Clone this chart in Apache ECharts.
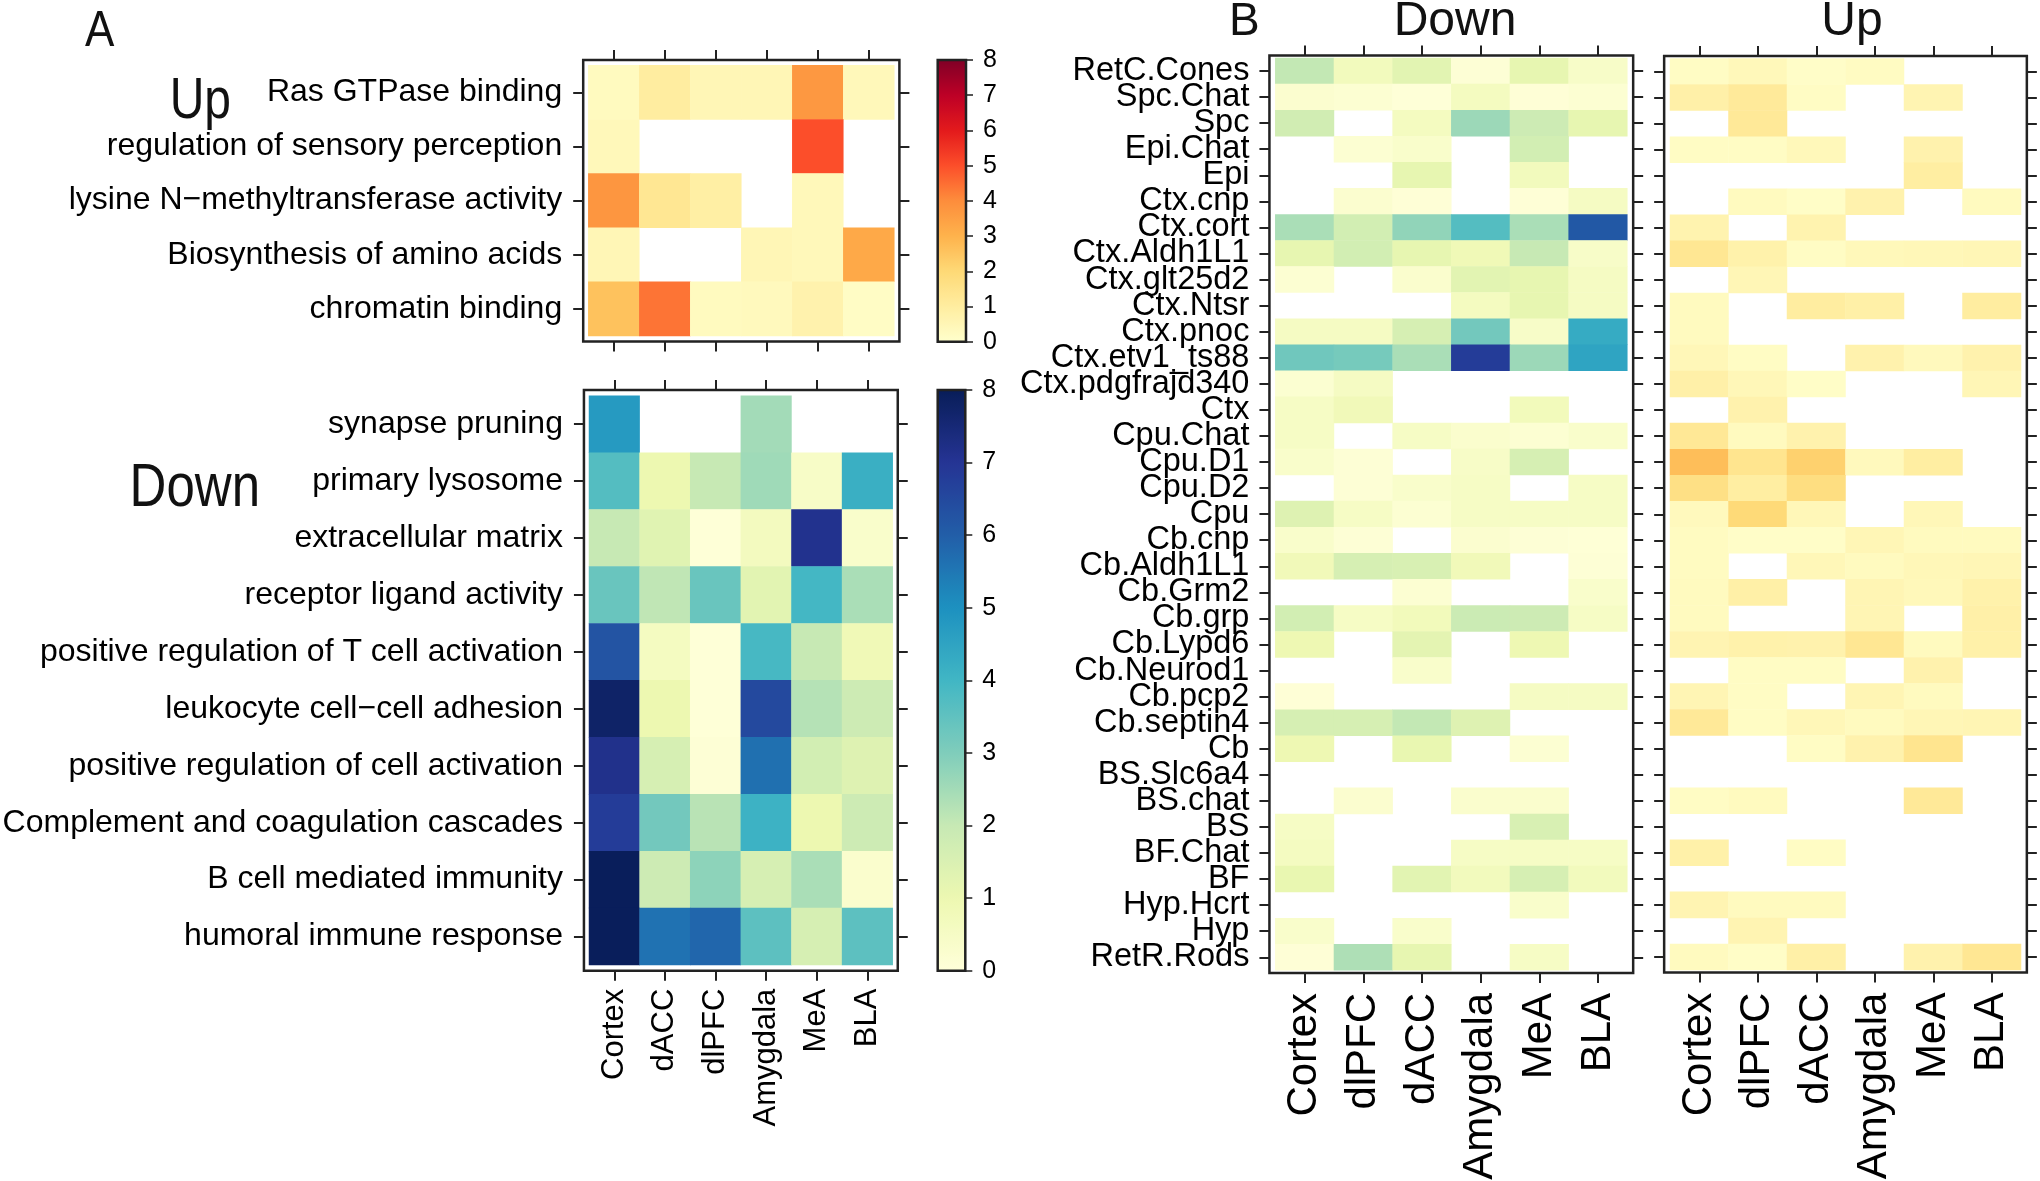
<!DOCTYPE html>
<html>
<head>
<meta charset="utf-8">
<script src="https://cdn.jsdelivr.net/npm/echarts@6/dist/echarts.min.js"></script>
<style>html,body{margin:0;padding:0;background:#fff}#chart{width:2040px;height:1181px}</style>
</head>
<body>
<div id="chart"></div>
<script>
// ---------------- DATA ----------------
const aRegions = ['Cortex', 'dACC', 'dlPFC', 'Amygdala', 'MeA', 'BLA'];
const bRegions = ['Cortex', 'dlPFC', 'dACC', 'Amygdala', 'MeA', 'BLA'];
const aUpTerms = ['Ras GTPase binding', 'regulation of sensory perception', 'lysine N\u2212methyltransferase activity', 'Biosynthesis of amino acids', 'chromatin binding'];
const aDownTerms = ['synapse pruning', 'primary lysosome', 'extracellular matrix', 'receptor ligand activity', 'positive regulation of T cell activation', 'leukocyte cell\u2212cell adhesion', 'positive regulation of cell activation', 'Complement and coagulation cascades', 'B cell mediated immunity', 'humoral immune response'];
const bCellTypes = ['RetC.Cones', 'Spc.Chat', 'Spc', 'Epi.Chat', 'Epi', 'Ctx.cnp', 'Ctx.cort', 'Ctx.Aldh1L1', 'Ctx.glt25d2', 'Ctx.Ntsr', 'Ctx.pnoc', 'Ctx.etv1_ts88', 'Ctx.pdgfrajd340', 'Ctx', 'Cpu.Chat', 'Cpu.D1', 'Cpu.D2', 'Cpu', 'Cb.cnp', 'Cb.Aldh1L1', 'Cb.Grm2', 'Cb.grp', 'Cb.Lypd6', 'Cb.Neurod1', 'Cb.pcp2', 'Cb.septin4', 'Cb', 'BS.Slc6a4', 'BS.chat', 'BS', 'BF.Chat', 'BF', 'Hyp.Hcrt', 'Hyp', 'RetR.Rods'];
const colorbarTicks = [0, 8, 1]; // min, max, step

// rows = terms / cell types, columns = regions (null = no value)
const aUpValues = [
  [0.3, 1.0, 0.5, 0.5, 3.7, 0.4],
  [0.4, null, null, null, 5.0, null],
  [3.75, 1.3, 0.9, null, 0.4, null],
  [0.5, null, null, 0.5, 0.4, 3.25],
  [2.6, 4.4, 0.3, 0.35, 0.7, 0.15]
];
const aDownValues = [
  [4.75, null, null, 2.5, null, null],
  [3.7, 1.0, 2.0, 2.55, 0.45, 4.2],
  [2.0, 1.35, 0.05, 0.65, 7.1, 0.35],
  [3.35, 2.1, 3.35, 1.3, 3.95, 2.4],
  [6.25, 0.6, 0.05, 3.9, 2.0, 0.85],
  [7.75, 1.0, 0.05, 6.5, 2.25, 1.85],
  [7.15, 1.6, 0.1, 5.65, 1.7, 1.4],
  [6.8, 3.2, 2.2, 4.1, 1.0, 1.85],
  [7.95, 1.85, 2.8, 1.6, 2.4, 0.3],
  [7.95, 5.6, 5.85, 3.55, 1.6, 3.55]
];
const bDownValues = [
  [2.05, 0.7, 1.3, 0.1, 1.15, 0.42],
  [0.25, 0.18, 0.05, 0.62, 0.08, 0.18],
  [1.75, null, 0.62, 2.6, 1.85, 1.15],
  [null, 0.18, 0.35, null, 1.7, null],
  [null, null, 1.15, null, 0.7, null],
  [null, 0.25, 0.08, null, 0.08, 0.55],
  [2.4, 1.7, 2.75, 3.7, 2.4, 6.15],
  [1.15, 1.7, 1.15, 0.85, 2.0, 0.42],
  [0.18, null, 0.3, 1.3, 1.15, 0.55],
  [null, null, null, 0.62, 1.15, 0.55],
  [0.55, 0.55, 1.6, 3.2, 0.42, 4.3],
  [3.25, 3.15, 2.4, 6.8, 2.6, 4.5],
  [0.2, 0.55, null, null, null, null],
  [0.5, 0.8, null, null, 0.75, null],
  [0.5, null, 0.5, 0.3, 0.18, 0.35],
  [0.35, 0.1, null, 0.45, 1.6, null],
  [null, 0.1, 0.35, 0.5, null, 0.5],
  [1.4, 0.5, 0.18, 0.5, 0.5, 0.5],
  [0.35, 0.1, null, 0.25, 0.1, 0.07],
  [0.8, 1.6, 1.55, 0.8, null, 0.1],
  [null, null, 0.18, null, null, 0.35],
  [1.7, 0.5, 0.75, 1.9, 1.85, 0.5],
  [0.95, null, 1.25, null, 0.95, null],
  [null, null, 0.35, null, null, null],
  [0.08, null, null, null, 0.55, 0.55],
  [1.6, 1.6, 2.05, 1.4, null, null],
  [0.95, null, 1.1, null, 0.18, null],
  [null, null, null, null, null, null],
  [null, 0.25, null, 0.3, 0.3, null],
  [0.5, null, null, null, 1.55, null],
  [0.6, null, null, 0.5, 0.5, 0.5],
  [1.1, null, 1.3, 0.7, 1.6, 0.7],
  [null, null, null, null, 0.35, null],
  [0.35, null, 0.35, null, null, null],
  [0.08, 2.35, 1.15, null, 0.5, null]
];
const bUpValues = [
  [0.18, 0.4, 0.1, 0.23, null, null],
  [0.82, 1.15, 0.18, null, 0.6, null],
  [null, 1.2, null, null, null, null],
  [0.18, 0.18, 0.4, null, 0.7, null],
  [null, null, null, null, 0.95, null],
  [null, 0.3, 0.12, 0.7, null, 0.3],
  [0.65, null, 0.65, null, null, null],
  [1.3, 0.75, 0.18, 0.4, 0.45, 0.5],
  [null, 0.5, null, null, null, null],
  [0.3, null, 1.0, 0.85, null, 1.0],
  [0.3, null, null, null, null, null],
  [0.45, 0.18, null, 0.7, 0.35, 0.7],
  [0.82, 0.45, 0.12, null, null, 0.5],
  [null, 0.7, null, null, null, null],
  [1.25, 0.3, 0.7, null, null, null],
  [2.7, 1.4, 2.2, 0.35, 0.95, null],
  [1.65, 0.95, 1.75, null, null, null],
  [0.35, 1.95, 0.45, null, 0.45, null],
  [0.25, 0.1, 0.1, 0.5, 0.3, 0.3],
  [0.25, null, 0.45, 0.3, 0.45, 0.5],
  [0.3, 0.85, null, 0.55, 0.4, 0.75],
  [0.3, null, null, 0.55, null, 0.82],
  [0.6, 0.75, 0.7, 1.3, 0.3, 0.8],
  [null, 0.18, 0.18, null, 0.7, null],
  [0.55, 0.18, null, 0.55, 0.3, null],
  [1.2, 0.18, 0.45, 0.3, 0.5, 0.55],
  [null, null, 0.18, 0.7, 1.4, null],
  [null, null, null, null, null, null],
  [0.18, 0.3, null, null, 1.2, null],
  [null, null, null, null, null, null],
  [0.8, null, 0.18, null, null, null],
  [null, null, null, null, null, null],
  [0.6, 0.3, 0.3, null, null, null],
  [null, 0.6, null, null, null, null],
  [0.3, 0.12, 0.85, null, 0.7, 1.3]
];

// ---------------- STYLE / LAYOUT ----------------
const YlOrRd = ['#FFFFCC', '#FFEDA0', '#FED976', '#FEB24C', '#FD8D3C', '#FC4E2A', '#E31A1C', '#BD0026', '#800026'];
const YlGnBu = ['#FFFFD9', '#EDF8B1', '#C7E9B4', '#7FCDBB', '#41B6C4', '#1D91C0', '#225EA8', '#253494', '#081D58'];
const ARIAL = "'Liberation Sans', Arial, sans-serif";
const LINE = '#222';

const L = {
  aUp:   {left: 588.3, top: 65.3, width: 306, height: 270.7},
  aDown: {left: 589, top: 395.7, width: 303.7, height: 569.3},
  bDown: {left: 1275.3, top: 58, width: 352, height: 912.3},
  bUp:   {left: 1670, top: 58.5, width: 351, height: 911.5},
  cbUp:  {left: 937.7, top: 60, width: 28.3, height: 281.7},
  cbDown:{left: 937.7, top: 390, width: 27.6, height: 580.7}
};

function toCells(m) {
  const out = [];
  m.forEach((row, r) => row.forEach((v, c) => { if (v !== null) out.push([c, r, v]); }));
  return out;
}

const grids = [], xAxes = [], yAxes = [], series = [], boxes = [];
const tick = {show: true, alignWithLabel: true, length: 10, interval: 0, lineStyle: {color: LINE, width: 2}};

function gridOf(g) {
  return {left: g.left, top: g.top, width: g.width, height: g.height, containLabel: false, outerBoundsMode: 'none'};
}

function heat(key, xCats, yCats, values, xLabel, yLabel) {
  const g = L[key];
  const gi = grids.length;
  grids.push(gridOf(g));
  const insX = 0.1 * g.width / xCats.length;
  const insY = 0.1 * g.height / yCats.length;
  boxes.push({x: g.left - insX, y: g.top - insY, w: g.width + 2 * insX, h: g.height + 2 * insY});
  const base = {type: 'category', gridIndex: gi, axisLine: {show: false}, axisTick: tick, splitLine: {show: false}};
  xAxes.push(Object.assign({}, base, {position: 'top', data: xCats, offset: insY, axisLabel: {show: false}}));
  xAxes.push(Object.assign({}, base, {position: 'bottom', data: xCats, offset: insY,
    axisLabel: xLabel ? Object.assign({show: true, interval: 0, rotate: 90, color: '#000', hideOverlap: false}, xLabel) : {show: false}}));
  yAxes.push(Object.assign({}, base, {position: 'left', data: yCats, inverse: true, offset: insX,
    axisLabel: yLabel ? Object.assign({show: true, interval: 0, color: '#000', hideOverlap: false}, yLabel) : {show: false}}));
  yAxes.push(Object.assign({}, base, {position: 'right', data: yCats, inverse: true, offset: insX, axisLabel: {show: false}}));
  series.push({type: 'heatmap', xAxisIndex: 2 * gi + 1, yAxisIndex: 2 * gi, data: toCells(values),
    itemStyle: {borderWidth: 0}, emphasis: {disabled: true}, silent: true, progressive: 0});
}

heat('aUp', aRegions, aUpTerms, aUpValues, null, {fontFamily: ARIAL, fontSize: 32, margin: 21});
heat('aDown', aRegions, aDownTerms, aDownValues, {fontFamily: ARIAL, fontSize: 31, margin: 18}, {fontFamily: ARIAL, fontSize: 32, margin: 21});
heat('bDown', bRegions, bCellTypes, bDownValues, {fontFamily: ARIAL, fontSize: 42, margin: 20}, {fontFamily: ARIAL, fontSize: 32.5, margin: 20});
heat('bUp', bRegions, bCellTypes, bUpValues, {fontFamily: ARIAL, fontSize: 42, margin: 20}, null);

// colorbar axes
['cbUp', 'cbDown'].forEach(key => {
  const g = L[key];
  const gi = grids.length;
  grids.push(gridOf(g));
  boxes.push({x: g.left, y: g.top, w: g.width, h: g.height});
  xAxes.push({type: 'category', gridIndex: gi, data: [''], show: false});
  yAxes.push({type: 'value', gridIndex: gi, position: 'right', min: colorbarTicks[0], max: colorbarTicks[1], interval: colorbarTicks[2],
    axisLine: {show: false}, splitLine: {show: false},
    axisTick: {show: true, length: 7, lineStyle: {color: '#555', width: 2}},
    axisLabel: {show: true, fontFamily: ARIAL, fontSize: 25, color: '#000', margin: 17}});
});

const graphics = boxes.map(b => ({type: 'rect', z: 100, silent: true,
  shape: {x: b.x, y: b.y, width: b.w, height: b.h},
  style: {fill: 'none', stroke: LINE, lineWidth: 2.5}}));

function txt(text, x, y, size, align, sy) {
  return {type: 'text', z: 100, silent: true, x: x, y: y, scaleY: sy || 1,
    style: {text: text, font: size + 'px ' + ARIAL, fill: '#111', textAlign: align, textVerticalAlign: 'middle'}};
}
graphics.push(txt('A', 85, 32, 44, 'left', 1.15));
graphics.push(txt('Up', 231, 102, 48, 'right', 1.2));
graphics.push(txt('Down', 260, 489, 51, 'right', 1.2));
graphics.push(txt('B', 1229, 22, 46, 'left'));
graphics.push(txt('Down', 1455, 22, 48, 'center'));
graphics.push(txt('Up', 1852, 22, 48, 'center'));

const option = {
  animation: false,
  backgroundColor: '#fff',
  grid: grids,
  xAxis: xAxes,
  yAxis: yAxes,
  visualMap: [
    {type: 'continuous', min: 0, max: 8, seriesIndex: [0, 3], inRange: {color: YlOrRd},
     left: L.cbUp.left, top: L.cbUp.top, itemWidth: L.cbUp.width, itemHeight: L.cbUp.height,
     calculable: false, hoverLink: false, padding: 0, text: null, showLabel: false},
    {type: 'continuous', min: 0, max: 8, seriesIndex: [1, 2], inRange: {color: YlGnBu},
     left: L.cbDown.left, top: L.cbDown.top, itemWidth: L.cbDown.width, itemHeight: L.cbDown.height,
     calculable: false, hoverLink: false, padding: 0, text: null, showLabel: false}
  ],
  series: series,
  graphic: graphics
};

const chart = echarts.init(document.getElementById('chart'), null, {renderer: 'canvas'});
chart.setOption(option);
</script>
</body>
</html>
